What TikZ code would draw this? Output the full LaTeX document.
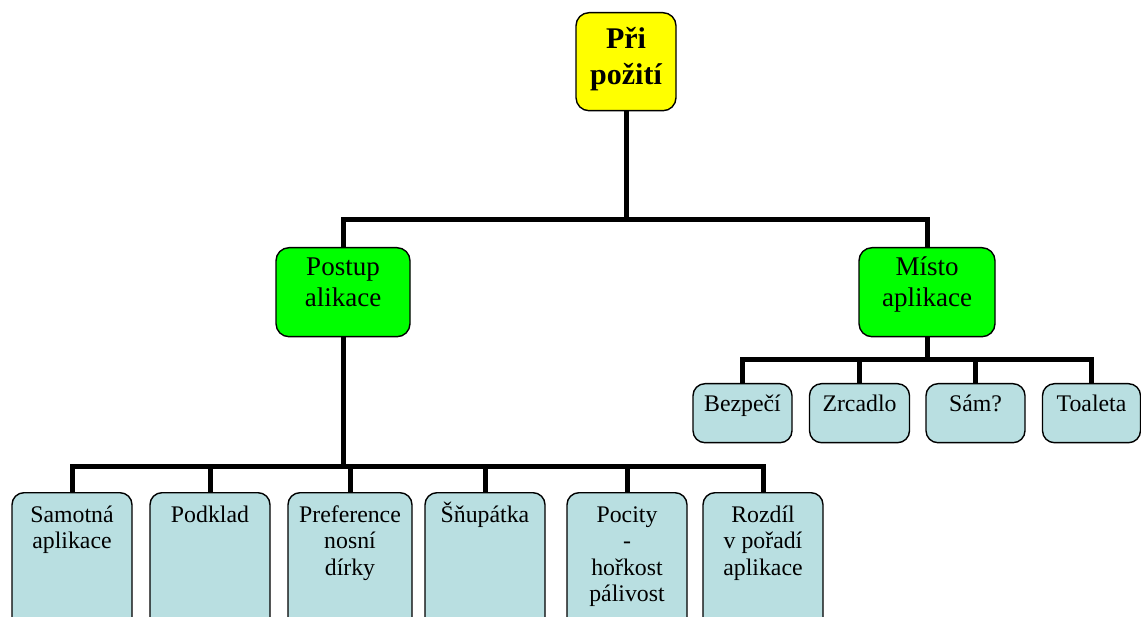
\documentclass[tikz,border=0pt]{standalone}
\usepackage{fontspec}
\setmainfont{Liberation Serif}
\definecolor{leafblue}{RGB}{185,223,225}
\definecolor{topyellow}{RGB}{255,255,0}
\definecolor{midgreen}{RGB}{0,255,0}
\tikzset{
  boxbase/.style={draw=black, line width=1.4pt, rounded corners=13pt, inner sep=0pt, anchor=north},
  topbox/.style={boxbase, fill=topyellow},
  midbox/.style={boxbase, fill=midgreen},
  leafbox/.style={boxbase, fill=leafblue, rounded corners=12pt},
  conn/.style={line width=5pt, black, line join=miter},
  toptext/.style={anchor=base, inner sep=0pt, font=\fontsize{30}{36}\selectfont\bfseries},
  midtext/.style={anchor=base, inner sep=0pt, font=\fontsize{27}{31}\selectfont},
  leaftext/.style={anchor=base, inner sep=0pt, font=\fontsize{23.8}{26.5}\selectfont},
}
\newcommand{\ctext}[2]{\parbox[t]{#1}{\centering #2}}
\begin{document}
\begin{tikzpicture}[x=1pt,y=1pt]
\useasboundingbox (0,0) rectangle (1141,-617);
\clip (0,0) rectangle (1141,-617);
% connectors
\coordinate (bus1) at (626,-220);
\coordinate (bus2) at (927,-360);
\coordinate (bus3) at (343,-467);

% boxes
\node[topbox, minimum width=100pt, minimum height=98pt] (top) at (626,-12) {};
\node[midbox, minimum width=134pt, minimum height=89pt] (postup) at (343,-247) {};
\node[midbox, minimum width=136pt, minimum height=89pt] (misto) at (927,-247) {};

\node[leafbox, minimum width=99pt, minimum height=59pt] (bez) at (742.5,-383) {};
\node[leafbox, minimum width=100pt, minimum height=59pt] (zrc) at (859.5,-383) {};
\node[leafbox, minimum width=99pt, minimum height=59pt] (sam) at (975.5,-383) {};
\node[leafbox, minimum width=98pt, minimum height=59pt] (toa) at (1091.5,-383) {};

\node[leafbox, minimum width=120pt, minimum height=140pt] (samo) at (72,-492) {};
\node[leafbox, minimum width=120pt, minimum height=140pt] (podk) at (210,-492) {};
\node[leafbox, minimum width=124pt, minimum height=140pt] (pref) at (350,-492) {};
\node[leafbox, minimum width=120pt, minimum height=140pt] (snup) at (485,-492) {};
\node[leafbox, minimum width=120pt, minimum height=140pt] (poc) at (627,-492) {};
\node[leafbox, minimum width=120pt, minimum height=140pt] (roz) at (763,-492) {};

% connector lines
\draw[conn] (top.south) -- (bus1);
\draw[conn] (postup.north) -- (postup.north |- bus1) -- (misto.north |- bus1) -- (misto.north);
\draw[conn] (misto.south) -- (bus2);
\draw[conn] (bez.north) -- (bez.north |- bus2) -- (toa.north |- bus2) -- (toa.north);
\draw[conn] (zrc.north) -- (zrc.north |- bus2);
\draw[conn] (sam.north) -- (sam.north |- bus2);
\draw[conn] (postup.south) -- (bus3);
\draw[conn] (samo.north) -- (samo.north |- bus3) -- (roz.north |- bus3) -- (roz.north);
\draw[conn] (podk.north) -- (podk.north |- bus3);
\draw[conn] (pref.north) -- (pref.north |- bus3);
\draw[conn] (snup.north) -- (snup.north |- bus3);
\draw[conn] (poc.north) -- (poc.north |- bus3);

% texts
\node[toptext] (ttop) at ([yshift=-37pt]top.north) {\ctext{100pt}{Při\\požití}};
\node[midtext] (tpostup) at ([yshift=-29pt]postup.north) {\ctext{134pt}{Postup\\alikace}};
\node[midtext] (tmisto) at ([yshift=-29pt]misto.north) {\ctext{136pt}{Místo\\aplikace}};

\node[leaftext] (tbez) at ([yshift=-29pt]bez.north) {\ctext{99pt}{Bezpečí}};
\node[leaftext] (tzrc) at ([yshift=-29pt]zrc.north) {\ctext{100pt}{Zrcadlo}};
\node[leaftext] (tsam) at ([yshift=-29pt]sam.north) {\ctext{99pt}{Sám?}};
\node[leaftext] (ttoa) at ([yshift=-29pt]toa.north) {\ctext{98pt}{Toaleta}};

\node[leaftext] (tsamo) at ([yshift=-30pt]samo.north) {\ctext{120pt}{Samotná\\aplikace}};
\node[leaftext] (tpodk) at ([yshift=-30pt]podk.north) {\ctext{120pt}{Podklad}};
\node[leaftext] (tpref) at ([yshift=-30pt]pref.north) {\ctext{124pt}{Preference\\nosní\\dírky}};
\node[leaftext] (tsnup) at ([yshift=-30pt]snup.north) {\ctext{120pt}{Šňupátka}};
\node[leaftext] (tpoc) at ([yshift=-30pt]poc.north) {\ctext{120pt}{Pocity\\-\\hořkost\\pálivost}};
\node[leaftext] (troz) at ([yshift=-30pt]roz.north) {\ctext{120pt}{Rozdíl\\v pořadí\\aplikace}};
\end{tikzpicture}
\end{document}
